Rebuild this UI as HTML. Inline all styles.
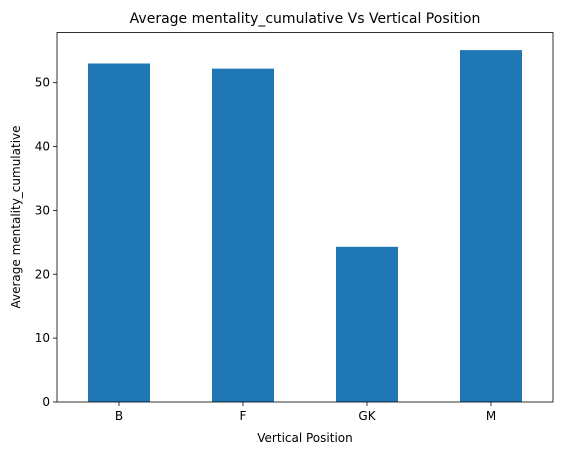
<!DOCTYPE html>
<html><head><meta charset="utf-8"><style>
body{margin:0;background:#fff;}
svg{display:block;font-family:"DejaVu Sans","Liberation Sans",sans-serif;}
</style></head><body>
<svg id="chart" width="563" height="455">
<text x="305" y="23" text-anchor="middle" font-size="14">Average mentality_cumulative Vs Vertical Position</text>
<text x="305" y="442" text-anchor="middle" font-size="12">Vertical Position</text>
<text transform="translate(20,217) rotate(-90)" text-anchor="middle" font-size="12">Average mentality_cumulative</text>
<g id="bars"></g><g id="axes"></g>
</svg>
<script>
const categories=["B","F","GK","M"];
const values=[53.0,52.2,24.3,55.1];
const yTicks=[0,10,20,30,40,50];
const L=57,R=553,T=32.5,B=402;
const yMax=Math.max(...values)*1.05;
const y=v=>B-(v/yMax)*(B-T);
const band=(R-L)/categories.length;
const x=i=>L+band*(i+0.5);
const ns="http://www.w3.org/2000/svg";
const bars=document.getElementById('bars'),axes=document.getElementById('axes');
function mk(tag,attrs,parent){const e=document.createElementNS(ns,tag);for(const k in attrs)e.setAttribute(k,attrs[k]);parent.appendChild(e);return e;}
values.forEach((v,i)=>{
const r=mk('rect',{x:x(i)-band/4,y:y(v),width:band/2,height:B-y(v),fill:'#1f77b4'},bars);


const t=mk('line',{x1:x(i),x2:x(i),y1:B,y2:B+4,stroke:'#000','stroke-width':0.8},axes);
const lb=mk('text',{x:x(i),y:B+18,'text-anchor':'middle','font-size':12},axes);
lb.textContent=categories[i];


});
yTicks.forEach(v=>{
mk('line',{x1:L-4,x2:L,y1:y(v),y2:y(v),stroke:'#000','stroke-width':0.8},axes);
const lb=mk('text',{x:L-7,y:y(v)+4,'text-anchor':'end','font-size':12},axes);
lb.textContent=v;


});
const f=mk('rect',{x:L,y:T,width:R-L,height:B-T,fill:'none',stroke:'#000','stroke-width':0.8},axes);


</script>
</body></html>
